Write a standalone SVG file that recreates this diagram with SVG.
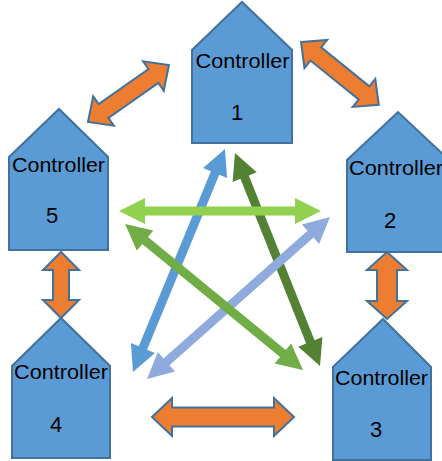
<svg xmlns="http://www.w3.org/2000/svg" width="442" height="461" viewBox="0 0 442 461">
<style>
.node{fill:#5B9BD5;stroke:#41719C;stroke-width:2}
.lbl{font-family:"Liberation Sans",Arial,sans-serif;font-size:21px;fill:#000}
.num{font-family:"Liberation Sans",Arial,sans-serif;font-size:22px;fill:#000}
.orange{fill:#ED7D31;stroke:#41719C;stroke-width:2;stroke-linejoin:miter}
</style>
<rect width="442" height="461" fill="#fff"/>
<g id="connectors">
<path class="orange" transform="translate(88,122) rotate(-35.13)" d="M0,0 L19,-18 L19,-8.5 L80,-8.5 L80,-18 L99,0 L80,18 L80,8.5 L19,8.5 L19,18 Z"/>
<path class="orange" transform="translate(301,42) rotate(38.93)" d="M0,0 L19,-18 L19,-8.5 L81,-8.5 L81,-18 L100,0 L81,18 L81,8.5 L19,8.5 L19,18 Z"/>
<path class="orange" transform="translate(152,417)" d="M0,0 L20,-19 L20,-9.5 L122,-9.5 L122,-19 L142,0 L122,19 L122,9.5 L20,9.5 L20,19 Z"/>
<path class="orange" transform="translate(61,252) rotate(90)" d="M0,0 L18,-18 L18,-8 L48,-8 L48,-18 L66,0 L48,18 L48,8 L18,8 L18,18 Z"/>
<path class="orange" transform="translate(387,252) rotate(90)" d="M0,0 L18,-20 L18,-10 L49,-10 L49,-20 L67,0 L49,20 L49,10 L18,10 L18,20 Z"/>
<path fill="#5B9BD5" transform="translate(133,372) rotate(-67.58)" d="M0,0 L26,-13 L26,-4.5 L215.2,-4.5 L215.2,-13 L241.2,0 L215.2,13 L215.2,4.5 L26,4.5 L26,13 Z"/>
<path fill="#548235" transform="translate(235,153) rotate(68.24)" d="M0,0 L26,-13 L26,-4.5 L203.3,-4.5 L203.3,-13 L229.3,0 L203.3,13 L203.3,4.5 L26,4.5 L26,13 Z"/>
<path fill="#8FAADC" transform="translate(147,379) rotate(-41.52)" d="M0,0 L26,-13 L26,-4.5 L218.4,-4.5 L218.4,-13 L244.4,0 L218.4,13 L218.4,4.5 L26,4.5 L26,13 Z"/>
<path fill="#70AD47" transform="translate(125,224) rotate(39.36)" d="M0,0 L26,-13 L26,-4.5 L204.2,-4.5 L204.2,-13 L230.2,0 L204.2,13 L204.2,4.5 L26,4.5 L26,13 Z"/>
<path fill="#92D050" transform="translate(119,211)" d="M0,0 L26,-13 L26,-4.5 L176,-4.5 L176,-13 L202,0 L176,13 L176,4.5 L26,4.5 L26,13 Z"/>
</g>
<g id="controller1">
<path class="node" d="M192,50 L242,2 L292,50 L292,143 L192,143 Z"/>
<text class="lbl" x="242.5" y="68" text-anchor="middle" textLength="94" lengthAdjust="spacingAndGlyphs">Controller</text>
<text class="num" x="237" y="120" text-anchor="middle">1</text>
</g>
<g id="controller2">
<path class="node" d="M347,160 L398,112 L449,160 L449,252 L347,252 Z"/>
<text class="lbl" x="349" y="175" textLength="94" lengthAdjust="spacingAndGlyphs">Controller</text>
<text class="num" x="390" y="228" text-anchor="middle">2</text>
</g>
<g id="controller3">
<path class="node" d="M333,367 L383,319 L431,367 L431,460 L333,460 Z"/>
<text class="lbl" x="381.5" y="385" text-anchor="middle" textLength="93" lengthAdjust="spacingAndGlyphs">Controller</text>
<text class="num" x="376" y="437" text-anchor="middle">3</text>
</g>
<g id="controller4">
<path class="node" d="M12,366 L61,318 L110,366 L110,458 L12,458 Z"/>
<text class="lbl" x="61" y="379" text-anchor="middle" textLength="94" lengthAdjust="spacingAndGlyphs">Controller</text>
<text class="num" x="56" y="432" text-anchor="middle">4</text>
</g>
<g id="controller5">
<path class="node" d="M9,157 L59,109 L108,157 L108,250 L9,250 Z"/>
<text class="lbl" x="58.5" y="172" text-anchor="middle" textLength="93" lengthAdjust="spacingAndGlyphs">Controller</text>
<text class="num" x="52" y="223" text-anchor="middle">5</text>
</g>
</svg>
